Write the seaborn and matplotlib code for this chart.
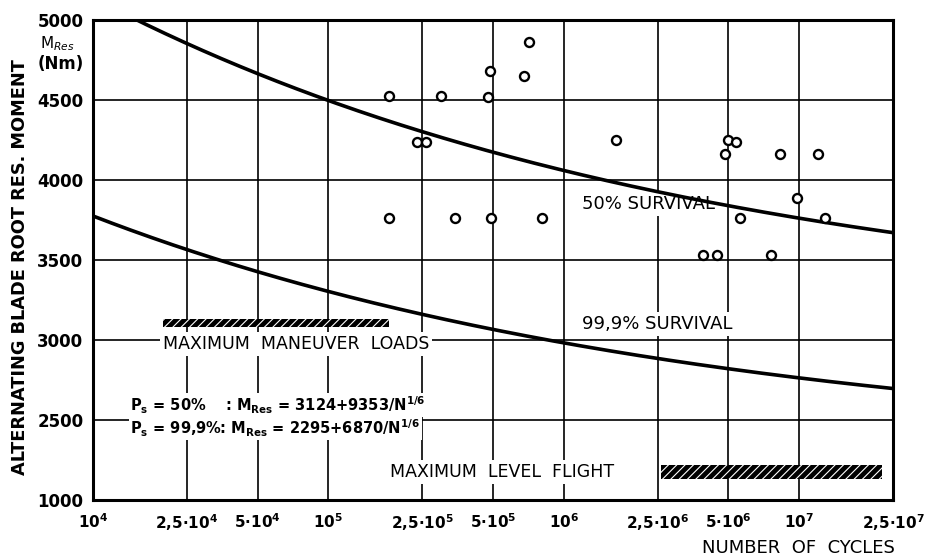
import numpy as np
import pandas as pd
import matplotlib
matplotlib.use("Agg")
import matplotlib.pyplot as plt
from matplotlib.ticker import NullLocator, FixedLocator
import seaborn as sns

# Fatigue test results: number of load cycles and blade root moment (Nm)
cycles = [1.8e5, 3.0e5, 4.77e5, 4.86e5, 7.1e5, 6.8e5,
          2.38e5, 2.6e5, 1.66e6,
          1.8e5, 3.45e5, 4.9e5, 8.07e5,
          5.0e6, 5.4e6, 4.85e6, 8.3e6, 1.2e7,
          9.8e6, 5.6e6, 1.29e7,
          3.9e6, 4.45e6, 7.6e6]
moments = [4525, 4525, 4520, 4680, 4860, 4650,
           4235, 4235, 4250,
           3760, 3760, 3760, 3760,
           4250, 4240, 4160, 4160, 4160,
           3885, 3760, 3760,
           3530, 3530, 3530]

# S-N curves: M_Res = a + b / N^(1/6)
curve_names = ["50% SURVIVAL", "99,9% SURVIVAL"]
survival_text = ["50%    ", "99,9%"]
curve_a = [3124, 2295]
curve_b = [9353, 6870]
cycle_range = [1e4, 2.5e7]

# Load level bands
maneuver_n = [1.98e4, 1.81e5]
maneuver_m = [3080, 3130]
level_n = [2.58e6, 2.25e7]
level_m = [1400, 1650]

x_ticks = [1e4, 2.5e4, 5e4, 1e5, 2.5e5, 5e5, 1e6, 2.5e6, 5e6, 1e7, 2.5e7]
x_ticklabels = [r"10$^{\mathbf{4}}$", r"2,5·10$^{\mathbf{4}}$", r"5·10$^{\mathbf{4}}$",
                r"10$^{\mathbf{5}}$", r"2,5·10$^{\mathbf{5}}$", r"5·10$^{\mathbf{5}}$",
                r"10$^{\mathbf{6}}$", r"2,5·10$^{\mathbf{6}}$", r"5·10$^{\mathbf{6}}$",
                r"10$^{\mathbf{7}}$", r"2,5·10$^{\mathbf{7}}$"]
y_ticks = [1000, 2500, 3000, 3500, 4000, 4500, 5000]

sns.set_theme(style="white")
plt.rcParams["font.family"] = ["DejaVu Sans"]
plt.rcParams["mathtext.fontset"] = "dejavusans"
plt.rcParams["hatch.linewidth"] = 0.8
plt.rcParams["text.color"] = "black"
plt.rcParams["axes.labelcolor"] = "black"

fig = plt.figure(figsize=(9.25, 5.6), dpi=100)
ax = fig.add_axes([93 / 925, 1 - 500 / 560, 800 / 925, 480 / 560])

# Curves from the fitted formulas
n_vals = np.geomspace(cycle_range[0], cycle_range[1], 300)
curve_frames = []
for name, a, b in zip(curve_names, curve_a, curve_b):
    curve_frames.append(pd.DataFrame({"N": n_vals,
                                      "M": a + b / n_vals ** (1 / 6),
                                      "curve": name}))
curves = pd.concat(curve_frames, ignore_index=True)
sns.lineplot(data=curves, x="N", y="M", units="curve", estimator=None,
             color="black", lw=2.6, sort=False, ax=ax, zorder=4, legend=False)

pts = pd.DataFrame({"N": cycles, "M": moments})
sns.scatterplot(data=pts, x="N", y="M", ax=ax, marker="o", s=42,
                facecolor="white", edgecolor="black", linewidth=1.7,
                zorder=5, legend=False)

# Load bands
for ns, ms in [(maneuver_n, maneuver_m), (level_n, level_m)]:
    ax.fill_between(ns, ms[0], ms[1], facecolor="black", edgecolor="white",
                    hatch="////", lw=0, zorder=3)

# Broken y axis: 1000..2500 compressed to one 500-step
def fwd(y):
    y = np.asarray(y, dtype=float)
    return np.where(y < 2500, 2000 + (y - 1000) / 3.0, y)

def inv(v):
    v = np.asarray(v, dtype=float)
    return np.where(v < 2500, 1000 + (v - 2000) * 3.0, v)

ax.set_xscale("log")
ax.set_yscale("function", functions=(fwd, inv))
ax.set_xlim(cycle_range)
ax.set_ylim(1000, 5000)
ax.xaxis.set_major_locator(FixedLocator(x_ticks))
ax.xaxis.set_minor_locator(NullLocator())
ax.yaxis.set_major_locator(FixedLocator(y_ticks))
ax.yaxis.set_minor_locator(NullLocator())
ax.set_xticklabels(x_ticklabels)
ax.set_yticklabels([str(v) for v in y_ticks])
ax.tick_params(axis="both", which="major", colors="black", labelcolor="black",
               length=5, width=1.3, direction="out", pad=2)
ax.tick_params(axis="y", labelsize=12)
ax.tick_params(axis="x", labelsize=11, pad=4)
for lab in ax.get_xticklabels() + ax.get_yticklabels():
    lab.set_fontweight("bold")
ax.grid(True, which="major", color="black", lw=1.2)
ax.set_axisbelow(True)
for sp in ax.spines.values():
    sp.set_color("black")
    sp.set_linewidth(2.2)
ax.set_xlabel("")
ax.set_ylabel("")

box = dict(facecolor="white", edgecolor="none", pad=2)
ax.text(1.19e6, 3850, curve_names[0], ha="left", va="center", fontsize=13,
        color="black", zorder=3, bbox=box)
ax.text(1.19e6, 3100, curve_names[1], ha="left", va="center", fontsize=13,
        color="black", zorder=3, bbox=box)
ax.text(1.98e4, 2975, "MAXIMUM  MANEUVER  LOADS", ha="left", va="center",
        fontsize=12.5, color="black", zorder=3, bbox=box)
ax.text(1.83e5, 1520, "MAXIMUM  LEVEL  FLIGHT", ha="left", va="center",
        fontsize=12.5, color="black", zorder=3, bbox=box)

formula_y = [2595, 2350]
for ps, a, b, yv in zip(survival_text, curve_a, curve_b, formula_y):
    ax.text(1.44e4, yv,
            rf"$\mathbf{{P_s}}$ = {ps}: $\mathbf{{M_{{Res}}}}$ = {a}+{b}/N$^{{\mathbf{{1/6}}}}$",
            ha="left", va="center", fontsize=10.5, fontweight="bold",
            color="black", zorder=3,
            bbox=dict(facecolor="white", edgecolor="none", pad=1))

fig.text(20 / 925, 1 - 267 / 560, "ALTERNATING BLADE ROOT RES. MOMENT",
         rotation=90, ha="center", va="center", fontsize=12.8, fontweight="bold",
         color="black")
fig.text(40 / 925, 1 - 44 / 560, r"M$_{Res}$", ha="left", va="center", fontsize=11,
         color="black")
fig.text(38 / 925, 1 - 64 / 560, "(Nm)", ha="left", va="center", fontsize=12,
         fontweight="bold", color="black")
fig.text(895 / 925, 1 - 548 / 560, "NUMBER  OF  CYCLES", ha="right", va="center",
         fontsize=13, color="black")

fig.savefig("out.png", dpi=100)
